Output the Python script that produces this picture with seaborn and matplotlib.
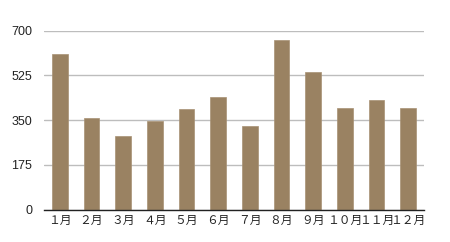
import matplotlib
matplotlib.use("Agg")
import matplotlib.pyplot as plt
import seaborn as sns
import pandas as pd

months = ["１月", "２月", "３月", "４月", "５月", "６月", "７月", "８月", "９月", "１０月", "１１月", "１２月"]
values = [609, 360, 288, 347, 394, 441, 327, 664, 537, 397, 429, 397]
yticks = [0, 175, 350, 525, 700]

sns.set_style("white")
plt.rcParams['font.family'] = ['Noto Sans CJK JP', 'DejaVu Sans']

df = pd.DataFrame({"month": months, "value": values})

fig = plt.figure(figsize=(4.5, 2.42), dpi=100)
ax = fig.add_axes([44/450, 1 - 209.7/242, 380/450, 179/242])
sns.barplot(data=df, x="month", y="value", color="#9a8262", saturation=1, width=0.5,
            edgecolor="#a89274", linewidth=0.5, ax=ax, zorder=3)
ax.set_xlim(-0.5, 11.5)
ax.set_ylim(0, 700)
ax.set_yticks(yticks)
ax.set_yticklabels([str(t) for t in yticks], family=['Liberation Sans', 'DejaVu Sans'])
ax.yaxis.grid(True, color="#bdbdbd", linewidth=1)
ax.set_axisbelow(True)
for s in ["left", "right", "top"]:
    ax.spines[s].set_visible(False)
ax.spines["bottom"].set_color("#222222")
ax.spines["bottom"].set_linewidth(1)
ax.spines["bottom"].set_zorder(4)
ax.tick_params(axis="both", length=0, colors="#222222")
ax.tick_params(axis="y", pad=8.5, labelsize=9)
ax.tick_params(axis="x", pad=3, labelsize=8.5)
ax.set_xlabel("")
ax.set_ylabel("")
fig.savefig("out.png", dpi=100)
